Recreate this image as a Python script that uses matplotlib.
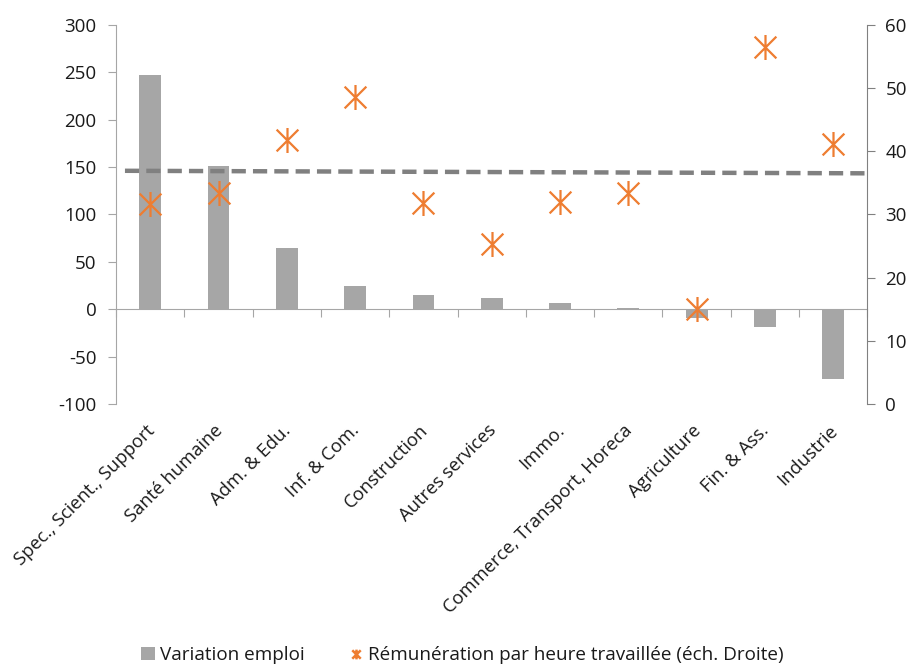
import matplotlib
matplotlib.use("Agg")
import matplotlib.pyplot as plt
from matplotlib.path import Path
from matplotlib.patches import Patch
from matplotlib.lines import Line2D
import matplotlib.transforms as mtransforms
import numpy as np

plt.rcParams['font.family'] = ['Open Sans', 'DejaVu Sans']
plt.rcParams['axes.unicode_minus'] = False

categories = ["Spec., Scient., Support", "Santé humaine", "Adm. & Edu.", "Inf. & Com.",
              "Construction", "Autres services", "Immo.", "Commerce, Transport, Horeca",
              "Agriculture", "Fin. & Ass.", "Industrie"]
variation_emploi = [247, 151, 65, 24.5, 15.4, 12.2, 6.3, 1, -9.5, -18.7, -73]
remuneration = [31.6, 33.4, 41.8, 48.5, 31.8, 25.3, 31.9, 33.4, 15.0, 56.4, 41.1]
avg_line_x = [-0.37, 10.5]
avg_line_y = [36.9, 36.5]

left_ticks = [-100, -50, 0, 50, 100, 150, 200, 250, 300]
right_ticks = [0, 10, 20, 30, 40, 50, 60]

bar_color = "#A6A6A6"
orange = "#EE7D31"
text_color = "#1a1a1a"

star = Path([(-1, -1), (1, 1), (-1, 1), (1, -1), (0, -1.15), (0, 1.15)],
            [Path.MOVETO, Path.LINETO, Path.MOVETO, Path.LINETO, Path.MOVETO, Path.LINETO])

fig = plt.figure(figsize=(9.14, 6.66), dpi=100)
ax = fig.add_axes([0.127, 0.393, 0.822, 0.570])
ax2 = ax.twinx()

x = np.arange(len(categories))
ax.bar(x, variation_emploi, width=0.32, color=bar_color, zorder=2)
ax.set_xlim(-0.5, len(categories) - 0.5)
ax.set_ylim(-100, 300)
ax.set_yticks(left_ticks)

ax2.set_ylim(0, 60)
ax2.set_yticks(right_ticks)
ax2.plot(x, remuneration, linestyle='none', marker=star, markersize=18,
         markeredgecolor=orange, markerfacecolor='none', markeredgewidth=1.6, zorder=4)
ax2.plot(avg_line_x, avg_line_y, color="#808080", linewidth=3.2,
         linestyle=(0, (3.2, 1.6)), zorder=3)

# spines
for a in (ax, ax2):
    a.spines['top'].set_visible(False)
ax.spines['right'].set_visible(False)
ax2.spines['left'].set_visible(False)
ax2.spines['bottom'].set_visible(False)
ax.spines['left'].set_color("#A6A6A6")
ax2.spines['right'].set_color("#808080")
ax.spines['bottom'].set_position(('data', 0))
ax.spines['bottom'].set_color("#A6A6A6")

ax.tick_params(axis='y', length=6, color="#A6A6A6", labelsize=13.5, labelcolor=text_color, pad=8)
ax2.tick_params(axis='y', length=6, color="#808080", labelsize=13.5, labelcolor=text_color, pad=7)
ax.set_xticks(np.arange(-0.5, len(categories), 1.0))
ax.set_xticklabels([])
ax.tick_params(axis='x', length=6, color="#A6A6A6", direction='out')

trans = mtransforms.blended_transform_factory(ax.transData, ax.transAxes)
for xi, label in zip(x, categories):
    ax.text(xi - 0.07, -0.045, label, transform=trans, rotation=45, ha='right', va='top',
            rotation_mode='anchor', fontsize=13.2, color=text_color)

handles = [Patch(facecolor=bar_color, edgecolor='none', label="Variation emploi"),
           Line2D([], [], linestyle='none', marker=star, markersize=7, markeredgecolor=orange,
                  markerfacecolor='none', markeredgewidth=1.8,
                  label="Rémunération par heure travaillée (éch. Droite)")]
fig.legend(handles=handles, loc='center', bbox_to_anchor=(0.506, 0.016), ncol=2, frameon=False,
           fontsize=13.6, handlelength=0.75, handletextpad=0.25, columnspacing=2.35,
           labelcolor=text_color)

fig.savefig("out.png", dpi=100)
